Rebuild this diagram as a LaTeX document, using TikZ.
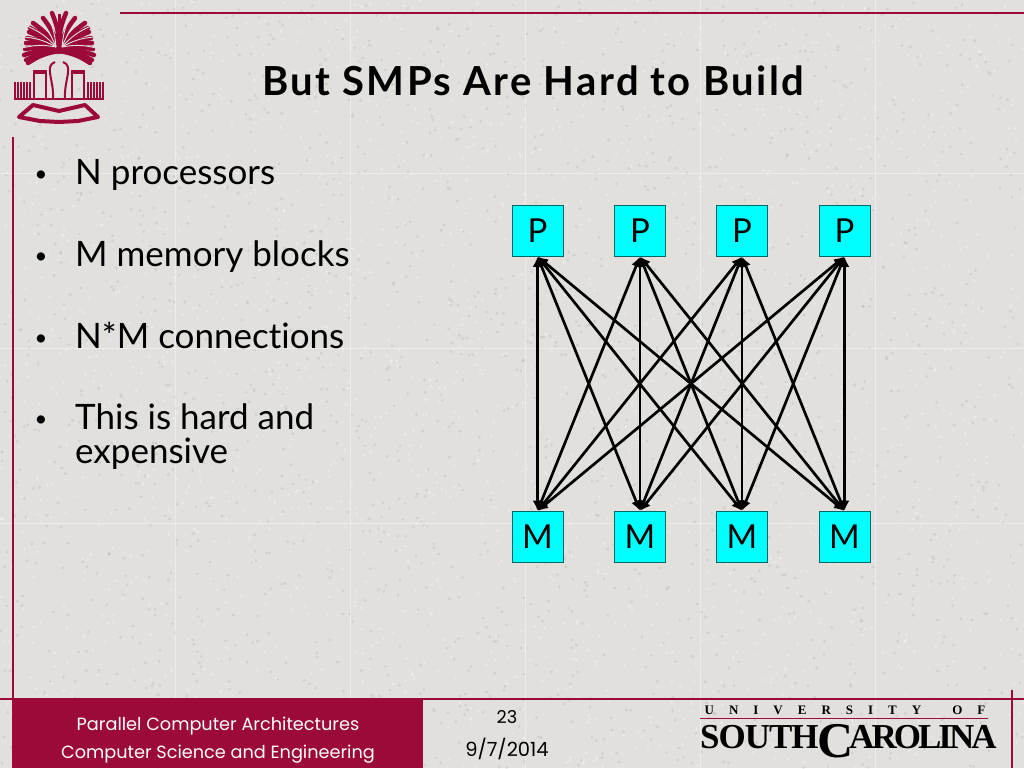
\documentclass[tikz,border=0pt]{standalone}
\usepackage{fontspec}
\setmainfont[Ligatures=NoCommon]{Lato}
\newfontfamily\titlefont[LetterSpace=6]{Lato Bold}
\newfontfamily\footfont{Poppins}
\newfontfamily\logosouth[LetterSpace=-3]{Liberation Serif Bold}
\newfontfamily\logorest[LetterSpace=-8.5]{Liberation Serif Bold}
\newfontfamily\logocap{Liberation Serif Bold}
\usetikzlibrary{arrows.meta}
\definecolor{garnet}{HTML}{9B0A38}
\definecolor{paper}{HTML}{E1E0DC}
\definecolor{boxcyan}{HTML}{00FFFF}
\tikzset{
	rule/.style={garnet,line width=1.6pt},
	procbox/.style={draw=black!20!teal,fill=boxcyan,line width=0.9pt,minimum size=51pt,inner sep=0,font=\fontsize{33}{33}\selectfont},
	link/.style={black,line width=2.7pt,{Latex[length=10pt,width=10pt]}-{Latex[length=10pt,width=10pt]},shorten <=0.5pt,shorten >=0.5pt},
	bodytext/.style={anchor=base west,inner sep=0,font=\fontsize{35}{35}\selectfont},
	bullet/.style={anchor=base,inner sep=0,font=\fontsize{22}{22}\selectfont},
	foottext/.style={anchor=base,inner sep=0,font=\footfont\fontsize{17.7}{17.7}\selectfont},
	wordmark/.style={anchor=base west,inner sep=0}
}
\begin{document}
\begin{tikzpicture}[x=1pt,y=-1pt]
\useasboundingbox (0,0) rectangle (1024,768);
% background
\fill[paper] (0,0) rectangle (1024,768);
\pgfmathsetseed{7}
\foreach \i in {1,...,1800} {
	\pgfmathsetmacro{\dotx}{rnd*1024}
	\pgfmathsetmacro{\doty}{rnd*768}
	\fill[black!45,opacity=0.18] (\dotx,\doty) circle (1.6pt);
}
\foreach \i in {1,...,1800} {
	\pgfmathsetmacro{\dotx}{rnd*1024}
	\pgfmathsetmacro{\doty}{rnd*768}
	\fill[white,opacity=0.3] (\dotx,\doty) circle (1.6pt);
}
\foreach \i in {175,350,525,700,875}
	\draw[white,opacity=0.4,line width=0.8pt] (\i,0) -- (\i,768);
\foreach \i in {173,348,523}
	\draw[white,opacity=0.4,line width=0.8pt] (0,\i) -- (1024,\i);
% frame
\draw[rule] (120,13) -- (1024,13);
\draw[rule] (13,137) -- (13,768);
\draw[rule] (0,699) -- (1024,699);
\draw[rule] (1012,690) -- (1012,768);
\fill[garnet] (13,699) rectangle (423,768);
% logo
\foreach \dx/\dy in {7/-38,16/-33,26/-28,29/-23,30/-19,32/-13,33/-8,34/-2,35/4,33/9,31/12} {
	\draw[garnet,line width=4.5pt,line cap=round] (59,51) to[bend left=12] ++(\dx,\dy);
	\draw[garnet,line width=4.5pt,line cap=round] (59,51) to[bend right=12] ++(-\dx,\dy);
}
\foreach \dx/\dy in {11/-36,21/-31,29/-21,32/-10,34/1} {
	\draw[paper,line width=0.9pt] (62,47) to[bend left=12] ++(\dx,\dy);
	\draw[paper,line width=0.9pt] (56,47) to[bend right=12] ++(-\dx,\dy);
}
\draw[garnet,line width=3pt] (59,14) -- (59,50);
\foreach \cx in {40,78}
	\draw[garnet,line width=2.4pt] (\cx-6,99) -- (\cx-6,73) -- (\cx+6,73) -- (\cx+6,99);
\draw[garnet,line width=2pt] (33,71) -- (47,71) (71,71) -- (85,71);
\draw[garnet,line width=2pt] (55,62) .. controls (44,66) and (54,80) .. (53,98);
\draw[garnet,line width=2pt] (63,62) .. controls (74,66) and (64,80) .. (65,98);
\foreach \i in {15,18,21,24,27,30,88,91,94,97,100,103}
	\draw[garnet,line width=1.6pt] (\i,82) -- (\i,98);
\draw[garnet,line width=1.6pt] (14,99) -- (104,99);
\draw[garnet,line width=4pt,line join=round] (19,117) -- (33,105) -- (59,111) -- (85,105) -- (98,117) -- (78,121) -- (59,122) -- (40,121) -- cycle;
\draw[paper,line width=0.8pt] (28,114) -- (59,117) -- (90,114);
% title
\node[inner sep=0,anchor=base,font=\titlefont\fontsize{40}{40}\selectfont] (title) at (533,95) {But SMPs Are Hard to Build};
% bullets
\node[bullet] (b1) at (41,181) {•};
\node[bullet] (b2) at (41,263) {•};
\node[bullet] (b3) at (41,345) {•};
\node[bullet] (b4) at (41,426) {•};
\node[bodytext] (t1) at (75,184) {N processors};
\node[bodytext] (t2) at (75,266) {M memory blocks};
\node[bodytext] (t3) at (75,348) {N*M connections};
\node[bodytext] (t4) at (75,429) {This is hard and};
\node[bodytext] (t5) at (75,463) {expensive};
% boxes
\foreach \n/\cx in {1/537.5,2/640,3/742,4/844.5} {
	\node[procbox] (p\n) at (\cx,230.5) {P};
	\node[procbox] (m\n) at (\cx,537) {M};
}
% connections
\foreach \a in {1,...,4}
	\foreach \b in {1,...,4}
		\draw[link] (p\a.south) -- (m\b.north);
% footer
\node[foottext,white] (course) at (218,730) {Parallel Computer Architectures};
\node[foottext,white] (dept) at (218,758) {Computer Science and Engineering};
\node[foottext] (page) at (507,723) {23};
\node[foottext,font=\footfont\fontsize{19.5}{19.5}\selectfont] (date) at (507,756) {9/7/2014};
% wordmark
\node[anchor=base,inner sep=0,font=\logocap\fontsize{13}{13}\selectfont] (univ) at (845,714) {U\hspace{15pt}N\hspace{15pt}I\hspace{15pt}V\hspace{15pt}E\hspace{15pt}R\hspace{15pt}S\hspace{15pt}I\hspace{15pt}T\hspace{15pt}Y\hspace{31pt}O\hspace{15pt}F};
\draw[garnet,line width=0.9pt] (700,718) -- (988,718);
\node[wordmark,font=\logosouth\fontsize{35}{35}\selectfont] (south) at (700,748) {SOUTH};
\node[wordmark,font=\logocap\fontsize{50}{50}\selectfont] (bigc) at (817,757) {C};
\node[wordmark,font=\logorest\fontsize{35}{35}\selectfont] (carolina) at (849,748) {AROLINA};
\end{tikzpicture}
\end{document}
